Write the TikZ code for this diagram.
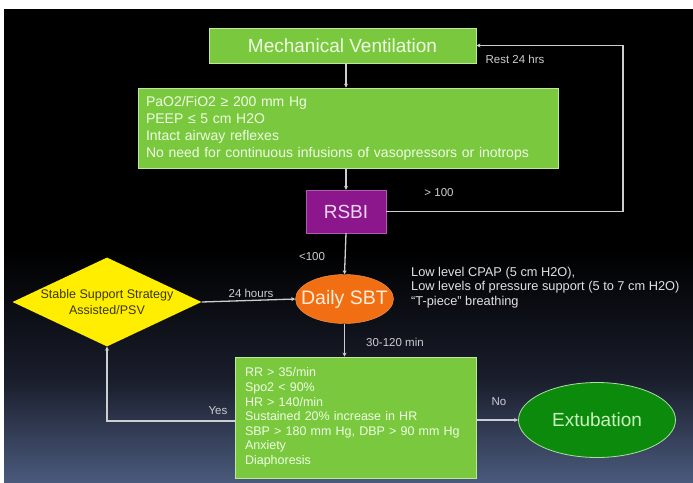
\documentclass[tikz,border=0pt]{standalone}
\usepackage{fontspec}
\setmainfont{Liberation Sans}
\usetikzlibrary{shapes.geometric,arrows.meta}
\definecolor{boxgreen}{RGB}{122,200,62}
\definecolor{boxedge}{RGB}{190,232,160}
\definecolor{boxtext}{RGB}{238,255,228}
\definecolor{rsbipurple}{RGB}{140,22,140}
\definecolor{sbtorange}{RGB}{242,110,18}
\definecolor{diamyellow}{RGB}{255,238,0}
\definecolor{extgreen}{RGB}{12,138,12}
\definecolor{extedge}{RGB}{170,225,160}
\definecolor{linegray}{RGB}{205,205,210}
\definecolor{bgblue}{RGB}{74,90,124}
\definecolor{bgmid}{RGB}{26,30,44}
\tikzset{
  gbox/.style={draw=boxedge, line width=0.8pt, fill=boxgreen, text=boxtext},
  conn/.style={draw=linegray, line width=1.3pt, -{Stealth[length=4pt,width=4pt]}},
  lbl/.style={text=linegray, font=\fontsize{11.5}{13}\selectfont, inner sep=0pt},
}
\begin{document}
\begin{tikzpicture}[x=1pt,y=-1pt]
\useasboundingbox (0,0) rectangle (693,482);
\fill[white] (0,0) rectangle (693,482);
\fill[black] (4,9) rectangle (693,482);
\shade[top color=black, bottom color=bgmid] (4,250) rectangle (693,380);
\shade[top color=bgmid, bottom color=bgblue] (4,380) rectangle (693,482);

% nodes
\node[gbox, minimum width=267pt, minimum height=35pt, inner sep=0pt,
      font=\fontsize{19}{21}\selectfont] (mv) at (342.5,45.5) {Mechanical Ventilation};
\node[gbox, minimum width=420pt, minimum height=80pt, inner sep=0pt,
      text width=404pt, align=left, font=\fontsize{14}{17}\selectfont]
      (crit) at (348,128) {PaO2/FiO2 ≥ 200 mm Hg\\PEEP ≤ 5 cm H2O\\Intact airway reflexes\\No need for continuous infusions of vasopressors or inotrops};
\node[draw=rsbipurple!70!white, fill=rsbipurple, text={rgb,255:red,245;green,215;blue,245},
      minimum width=80pt, minimum height=43pt, inner sep=0pt,
      font=\fontsize{19}{21}\selectfont] (rsbi) at (346,211.5) {RSBI};
\node[ellipse, fill=sbtorange, draw=sbtorange!70!white, text={rgb,255:red,255;green,238;blue,220},
      minimum width=98pt, minimum height=49pt, inner sep=0pt,
      font=\fontsize{19.5}{21}\selectfont] (sbt) at (344.5,299) {\makebox[0pt]{Daily SBT}};
\node[diamond, fill=diamyellow, minimum width=189pt, minimum height=89pt, inner sep=0pt]
      (diam) at (107,302) {};
\node[text={rgb,255:red,60;green,56;blue,0}, align=center, inner sep=0pt,
      font=\fontsize{12.5}{16.5}\selectfont] (diamtext) at (diam.center) {Stable Support Strategy\\Assisted/PSV};
\node[gbox, minimum width=241pt, minimum height=121pt, inner sep=0pt,
      text width=221pt, align=left, font=\fontsize{12.5}{14.6}\selectfont]
      (crit2) at (355.5,417.5) {RR > 35/min\\Spo2 < 90\%\\HR > 140/min\\Sustained 20\% increase in HR\\SBP > 180 mm Hg, DBP > 90 mm Hg\\Anxiety\\Diaphoresis};
\node[ellipse, fill=extgreen, draw=extedge, line width=0.8pt, text={rgb,255:red,200;green,245;blue,190},
      minimum width=157pt, minimum height=75pt, inner sep=0pt,
      font=\fontsize{19}{21}\selectfont] (ext) at (597,420) {\makebox[0pt]{Extubation}};

\node[text={rgb,255:red,225;green,225;blue,225}, align=left, anchor=north west, inner sep=0pt,
      font=\fontsize{12.8}{14.5}\selectfont] (modes) at (411,267)
      {Low level CPAP (5 cm H2O),\\Low levels of pressure support (5 to 7 cm H2O)\\“T-piece” breathing};

% coordinates
\coordinate (rc) at (623,211.5);
\coordinate (yc) at (107,421);
\coordinate (nc) at (crit2.east |- ext.west);

% connectors
\draw[conn] (mv.south -| rsbi.north) -- (crit.north -| rsbi.north);
\draw[conn] (crit.south -| rsbi.north) -- (rsbi.north);
\draw[conn] (rsbi.south) -- (sbt.north);
\draw[conn] (rsbi.east) -- (rc) |- (mv.east);
\draw[conn] (diam.east) -- (sbt.west);
\draw[conn] (sbt.south) -- (crit2.north -| sbt.south);
\draw[conn] (crit2.west |- yc) -- (yc) -- (diam.south);
\draw[conn] (nc) -- (ext.west);

% labels
\node[lbl] (l1) at (515,59) {Rest 24 hrs};
\node[lbl] (l2) at (439,193) {> 100};
\node[lbl] (l3) at (312,257) {<100};
\node[lbl] (l4) at (251,293) {24 hours};
\node[lbl, anchor=west] (l5) at (366,342) {30-120 min};
\node[lbl] (l6) at (218,411) {Yes};
\node[lbl] (l7) at (499,402) {No};
\end{tikzpicture}
\end{document}
